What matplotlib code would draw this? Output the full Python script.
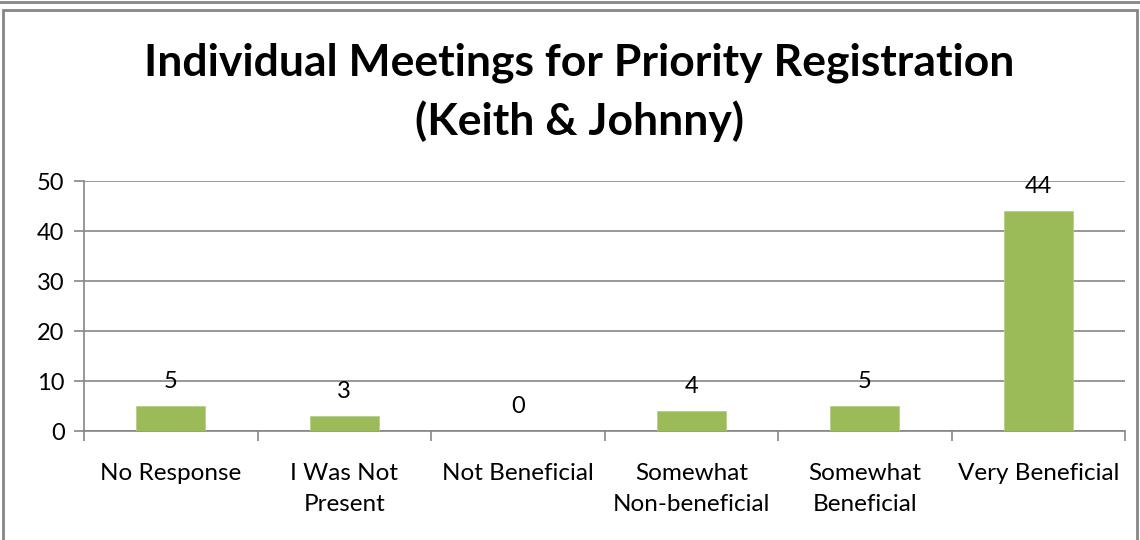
import matplotlib.pyplot as plt
import numpy as np
from matplotlib.patches import Rectangle

categories = ['No Response', 'I Was Not\nPresent', 'Not Beneficial',
              'Somewhat\nNon-beneficial', 'Somewhat\nBeneficial', 'Very Beneficial']
counts = [5, 3, 0, 4, 5, 44]
yticks = [0, 10, 20, 30, 40, 50]

plt.rcParams['font.family'] = ['Lato', 'DejaVu Sans']

fig = plt.figure(figsize=(11.4, 5.4), dpi=100)
ax = fig.add_axes([84 / 1140, 1 - 431 / 540, (1125 - 84) / 1140, 250 / 540])

x = np.arange(len(categories))
ax.bar(x, counts, width=0.4, color='#9BBB59', edgecolor='#B5D08A', linewidth=0.6, zorder=3)
for xi, v in zip(x, counts):
    ax.annotate(str(v), (xi, v), xytext=(0, 10), textcoords='offset points',
                ha='center', va='bottom', fontsize=17, zorder=4)

ax.set_xlim(-0.5, len(categories) - 0.5)
ax.set_ylim(0, 50)
ax.set_yticks(yticks)
ax.tick_params(axis='y', labelsize=17, length=7, width=1.2, color='#868686', pad=7)
ax.yaxis.grid(True, color='#868686', linewidth=1.2, zorder=0)

# category boundary ticks on x axis, labels centred
ax.set_xticks(np.arange(len(categories) + 1) - 0.5)
ax.set_xticklabels([])
ax.set_xticks(x, minor=True)
ax.set_xticklabels(categories, minor=True, fontsize=17.5, linespacing=1.6)
ax.tick_params(axis='x', which='major', length=7, width=1.2, color='#868686')
ax.tick_params(axis='x', which='minor', length=0, pad=23)

for s in ['top', 'right']:
    ax.spines[s].set_visible(False)
for s in ['left', 'bottom']:
    ax.spines[s].set_color('#868686')
    ax.spines[s].set_linewidth(1.2)

fig.text(0.508, 1 - 92 / 540, 'Individual Meetings for Priority Registration\n(Keith & Johnny)',
         ha='center', va='center', fontsize=32, fontweight='bold', linespacing=1.5)

# chart area border
fig.patches.append(Rectangle((3 / 1140, -0.01), 1134 / 1140, 1 - 10 / 540 + 0.01,
                             transform=fig.transFigure, fill=False,
                             edgecolor='#868686', linewidth=2))
fig.add_artist(plt.Line2D([0, 1], [1 - 2 / 540, 1 - 2 / 540], color='#868686', linewidth=2))

fig.savefig('out.png', dpi=100)
